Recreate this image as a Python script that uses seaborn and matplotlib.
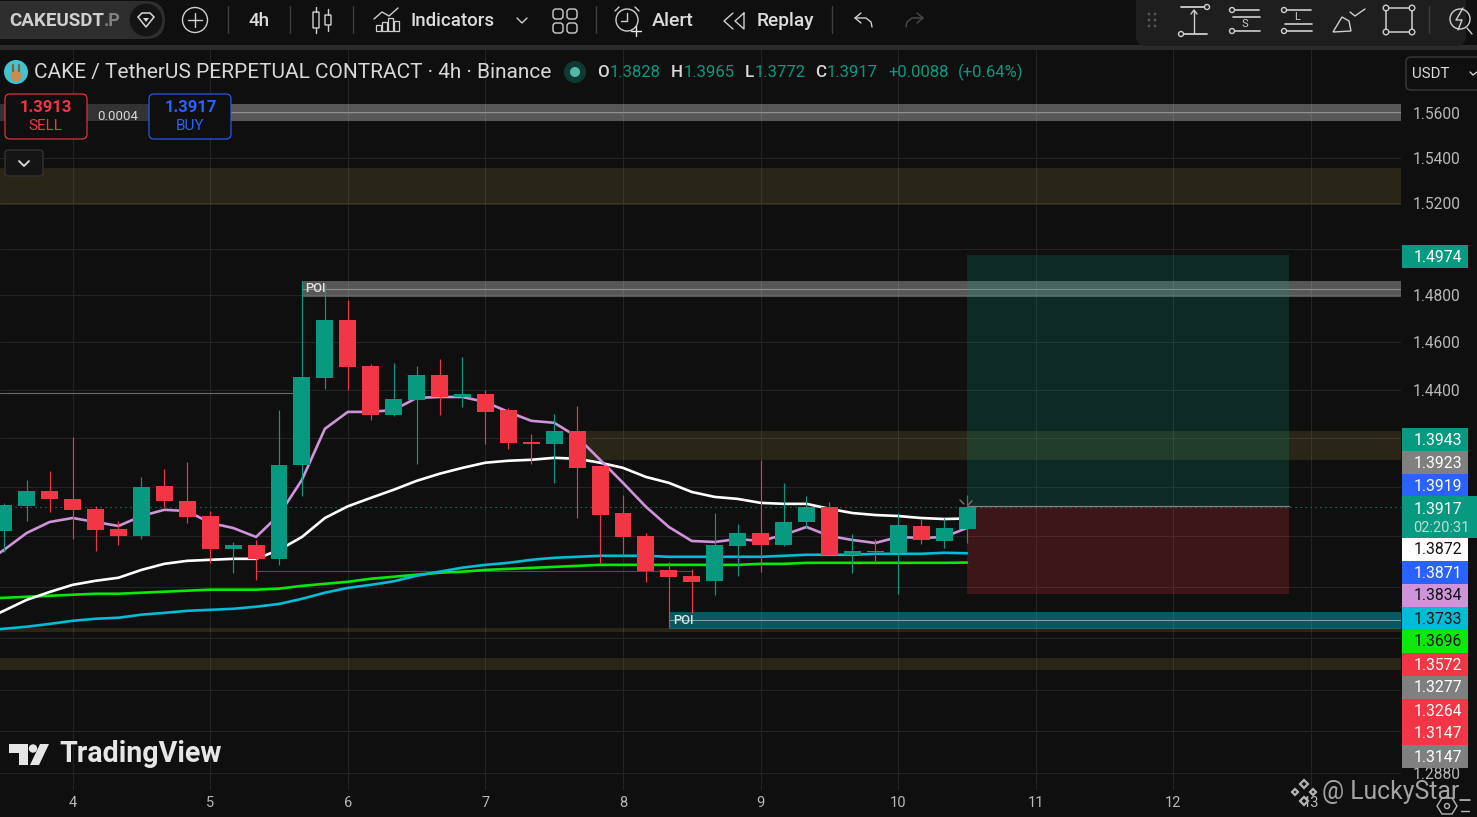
# CAKE / USDT 4h candles with the moving averages, zones and a long position
import numpy as np
import pandas as pd
import matplotlib
matplotlib.use("Agg")
import matplotlib.pyplot as plt
import seaborn as sns
from matplotlib.patches import Circle, FancyBboxPatch, Polygon, Rectangle
from matplotlib.ticker import NullLocator

# bar time in days, first bar sits half a day before the "4" tick
first_bar_day = 3.5
bar_step = 1 / 6

opens = [1.3822, 1.3923, 1.3983, 1.3951, 1.3911, 1.3830, 1.3802, 1.4004, 1.3943, 1.3882, 1.3750,
         1.3766, 1.3711, 1.4090, 1.4448, 1.4693, 1.4498, 1.4295, 1.4357, 1.4461, 1.4369, 1.4382,
         1.4315, 1.4184, 1.4175, 1.4229, 1.4085, 1.3894, 1.3802, 1.3667, 1.3644, 1.3624, 1.3762,
         1.3814, 1.3766, 1.3858, 1.3919, 1.3727, 1.3743, 1.3735, 1.3842, 1.3782, 1.3828]
highs = [1.3935, 1.4028, 1.4065, 1.4204, 1.3923, 1.3862, 1.4040, 1.4073, 1.4102, 1.3902, 1.3778,
         1.3786, 1.4315, 1.4860, 1.4847, 1.4779, 1.4507, 1.4511, 1.4498, 1.4528, 1.4537, 1.4399,
         1.4324, 1.4217, 1.4299, 1.4332, 1.4085, 1.3967, 1.3814, 1.3699, 1.3671, 1.3894, 1.3850,
         1.4110, 1.4016, 1.3963, 1.3939, 1.3810, 1.3790, 1.3894, 1.3870, 1.3874, 1.3965]
lows = [1.3738, 1.3862, 1.3898, 1.3790, 1.3743, 1.3766, 1.3790, 1.3919, 1.3854, 1.3695, 1.3656,
        1.3627, 1.3687, 1.3963, 1.4403, 1.4399, 1.4274, 1.4291, 1.4094, 1.4295, 1.4328, 1.4175,
        1.4155, 1.4094, 1.4016, 1.3874, 1.3695, 1.3723, 1.3620, 1.3444, 1.3498, 1.3569, 1.3644,
        1.3660, 1.3762, 1.3834, 1.3727, 1.3656, 1.3695, 1.3573, 1.3770, 1.3754, 1.3772]
closes = [1.3927, 1.3983, 1.3951, 1.3907, 1.3826, 1.3802, 1.4000, 1.3943, 1.3878, 1.3750, 1.3766,
          1.3711, 1.4090, 1.4453, 1.4693, 1.4494, 1.4295, 1.4361, 1.4461, 1.4369, 1.4382, 1.4307,
          1.4179, 1.4175, 1.4229, 1.4077, 1.3886, 1.3798, 1.3663, 1.3640, 1.3620, 1.3766, 1.3814,
          1.3766, 1.3858, 1.3919, 1.3727, 1.3743, 1.3738, 1.3846, 1.3786, 1.3834, 1.3917]

# moving averages start one bar earlier, just off the left edge
ma_white = [1.3465, 1.3506, 1.3549, 1.3580, 1.3608, 1.3624, 1.3636, 1.3667, 1.3691, 1.3703, 1.3707,
            1.3711, 1.3711, 1.3746, 1.3798, 1.3874, 1.3921, 1.3955, 1.3988, 1.4024, 1.4053, 1.4077,
            1.4098, 1.4106, 1.4110, 1.4118, 1.4114, 1.4098, 1.4077, 1.4040, 1.4016, 1.3979, 1.3959,
            1.3951, 1.3935, 1.3931, 1.3931, 1.3911, 1.3894, 1.3886, 1.3882, 1.3874, 1.3870, 1.3872]
ma_purple = [1.3683, 1.3746, 1.3814, 1.3858, 1.3874, 1.3858, 1.3842, 1.3882, 1.3907, 1.3902, 1.3854,
             1.3834, 1.3798, 1.3886, 1.4028, 1.4237, 1.4307, 1.4307, 1.4315, 1.4365, 1.4369, 1.4369,
             1.4348, 1.4307, 1.4270, 1.4262, 1.4204, 1.4110, 1.4016, 1.3919, 1.3838, 1.3782, 1.3778,
             1.3790, 1.3782, 1.3806, 1.3838, 1.3802, 1.3786, 1.3774, 1.3798, 1.3794, 1.3798, 1.3834]
ma_cyan = [1.3428, 1.3436, 1.3444, 1.3455, 1.3467, 1.3475, 1.3479, 1.3491, 1.3498, 1.3506, 1.3510,
           1.3514, 1.3522, 1.3533, 1.3553, 1.3577, 1.3596, 1.3608, 1.3622, 1.3644, 1.3660, 1.3676,
           1.3687, 1.3695, 1.3707, 1.3715, 1.3719, 1.3723, 1.3723, 1.3723, 1.3719, 1.3719, 1.3719,
           1.3719, 1.3719, 1.3723, 1.3727, 1.3727, 1.3727, 1.3731, 1.3731, 1.3731, 1.3735, 1.3733]
ma_green = [1.3555, 1.3557, 1.3561, 1.3565, 1.3569, 1.3573, 1.3573, 1.3577, 1.3581, 1.3585, 1.3589,
            1.3589, 1.3589, 1.3593, 1.3604, 1.3612, 1.3620, 1.3632, 1.3640, 1.3648, 1.3656, 1.3660,
            1.3667, 1.3671, 1.3675, 1.3679, 1.3683, 1.3687, 1.3687, 1.3687, 1.3687, 1.3687, 1.3687,
            1.3687, 1.3691, 1.3691, 1.3695, 1.3695, 1.3695, 1.3695, 1.3695, 1.3695, 1.3695, 1.3696]

# price zones: top, bottom, start day (None = from left edge), colour group
zone_tops = [1.5641, 1.5354, 1.4860, 1.4229, 1.3502, 1.3440, 1.3323]
zone_bottoms = [1.5564, 1.5191, 1.4792, 1.4110, 1.3436, 1.3424, 1.3277]
zone_starts = [None, None, 5.6667, 7.6667, 8.3333, None, None]
zone_kinds = ["grey", "olive", "grey", "olive", "teal", "olive", "olive"]
zone_mids = [1.5604, None, 1.4825, None, 1.3469, None, None]

# long position box
pos_start, pos_end = 10.5, 12.84
pos_target, pos_entry, pos_stop = 1.4972, 1.3923, 1.3573

last_price = 1.3917
old_high_line = 1.4384
old_low_line = 1.3664

grid_prices = [1.56, 1.54, 1.52, 1.50, 1.48, 1.46, 1.44, 1.42, 1.40, 1.38, 1.36, 1.34, 1.32, 1.3045, 1.2887]
grid_labels = ["1.5600", "1.5400", "1.5200", "", "1.4800", "1.4600", "1.4400", "", "", "", "", "", "", "", "1.2880"]
day_ticks = [4, 5, 6, 7, 8, 9, 10, 11, 12, 13]

# price tags on the right, top to bottom
tag_values = ["1.3943", "1.3923", "1.3919", "1.3917", "1.3872", "1.3871", "1.3834",
              "1.3733", "1.3696", "1.3572", "1.3277", "1.3264", "1.3147", "1.3147"]
tag_colors = ["#089981", "#808080", "#2962ff", "#089981", "#ffffff", "#2962ff", "#ce93d8",
              "#00bcd4", "#0ce70c", "#f23645", "#808080", "#f23645", "#f23645", "#808080"]
tag_text_colors = ["w", "w", "w", "w", "#111111", "w", "#111111",
                   "#111111", "#111111", "w", "w", "w", "w", "w"]

BG = "#0f0f0f"
UP = "#089981"
DOWN = "#f23645"
TXT = "#d6d6d6"
FONT = "Roboto"


def price_chart(fig):
    ax = fig.add_axes([0, 27 / 817, 1401 / 1477, 740 / 817])
    ax.set_facecolor(BG)
    ax.set_yscale("log")
    ax.set_xlim(3.4724, 13.654)
    ax.set_ylim(1.2823, 1.5888)

    ax.set_yticks(grid_prices)
    ax.set_yticklabels(grid_labels, fontsize=11.2, color="#b8b8b8", family=FONT)
    ax.yaxis.set_minor_locator(NullLocator())
    ax.yaxis.tick_right()
    ax.set_xticks(day_ticks)
    ax.set_xticklabels([str(d) for d in day_ticks], fontsize=10.5, color="#b8b8b8", family=FONT)
    ax.tick_params(axis="both", which="both", length=0)
    ax.tick_params(axis="y", pad=8.6)
    ax.tick_params(axis="x", pad=4)
    ax.grid(True, color="#242424", lw=0.75, zorder=0)
    ax.set_axisbelow(True)
    for s in ax.spines.values():
        s.set_visible(False)

    left, right = ax.get_xlim()
    zone_style = {"grey": ("#ffffff", 0.3, "#8e8e8e"), "olive": ("#c3a84b", 0.15, None),
                  "teal": ("#00bcd4", 0.42, "#7aa2a2")}
    for top, bot, start, kind, mid in zip(zone_tops, zone_bottoms, zone_starts, zone_kinds, zone_mids):
        x0 = left if start is None else start
        col, a, mid_col = zone_style[kind]
        ax.fill_between([x0, right], bot, top, color=col, alpha=a, lw=0, zorder=1)
        if mid is not None:
            ax.plot([x0, right], [mid, mid], color=mid_col, lw=0.75, zorder=1.5)

    ax.plot([left, 5.6667], [old_high_line] * 2, color="#6a6a6a", lw=0.8, zorder=1.5)
    ax.plot([5.3333, 8.5], [old_low_line] * 2, color="#24605e", lw=0.8, zorder=1.5)

    # position tool
    ax.fill_between([pos_start, pos_end], pos_entry, pos_target, color=UP, alpha=0.2, lw=0, zorder=2)
    ax.fill_between([pos_start, pos_end], pos_stop, pos_entry, color=DOWN, alpha=0.2, lw=0, zorder=2)
    ax.plot([pos_start, pos_end], [pos_entry] * 2, color="#808080", lw=0.9, zorder=2.2)

    ax.plot([left, right], [last_price] * 2, color=UP, lw=0.8, ls=(0, (1, 3.5)), zorder=2.5)

    # moving averages through seaborn
    ma_days = first_bar_day + bar_step * (np.arange(len(ma_white)) - 1)
    ma = pd.DataFrame({"day": ma_days, "white": ma_white, "purple": ma_purple,
                       "cyan": ma_cyan, "green": ma_green})
    for name, col in [("green", "#0ce70c"), ("cyan", "#00bcd4"), ("white", "#ffffff"), ("purple", "#ce93d8")]:
        sns.lineplot(data=ma, x="day", y=name, color=col, lw=1.9, ax=ax, zorder=3,
                     estimator=None, legend=False)
    ax.set_xlabel("")
    ax.set_ylabel("")

    # candles
    days = first_bar_day + bar_step * np.arange(len(opens))
    o, h, l, c = map(np.array, (opens, highs, lows, closes))
    colors = np.where(c >= o, UP, DOWN)
    ax.vlines(days, l, h, colors=colors, lw=0.85, zorder=4)
    ax.bar(days, np.abs(c - o), bottom=np.minimum(o, c), width=0.1235, color=colors, lw=0, zorder=5)
    return ax


def rrect(ui, x0, y0, x1, y1, r, fc="none", ec="none", lw=1.0, z=2):
    ui.add_patch(FancyBboxPatch((x0 + r, y0 + r), x1 - x0 - 2 * r, y1 - y0 - 2 * r,
                                boxstyle=f"round,pad={r},rounding_size={r}",
                                fc=fc, ec=ec, lw=lw, zorder=z))


def seg(ui, xs, ys, color="#cfcfcf", lw=1.0, z=3):
    ui.plot(xs, ys, color=color, lw=lw, zorder=z, solid_capstyle="round")


def ring(ui, x, y, r, ec="#cfcfcf", lw=1.0, fc="none", z=3):
    ui.add_patch(Circle((x, y), r, fc=fc, ec=ec, lw=lw, zorder=z))


def label(ui, x, y, s, size=12, color=TXT, ha="left", weight="normal", z=4, **kw):
    return ui.text(x, y, s, fontsize=size, color=color, ha=ha, va="center", family=FONT,
                   weight=weight, zorder=z, **kw)


def toolbar(ui):
    ui.add_patch(Rectangle((0, 0), 1477, 45, fc=BG, ec="none", zorder=1))
    ui.add_patch(Rectangle((0, 45), 1477, 5, fc="#2b2b2b", ec="none", zorder=1))

    rrect(ui, -30, 1, 165, 39, 19, fc="#2e2e2e")
    label(ui, 9, 20.5, "CAKEUSDT", size=13.5, color="#d0d0d0", weight="bold")
    label(ui, 103.5, 20.5, ".P", size=13, color="#808080", weight="bold")
    ring(ui, 146, 20, 17, ec="#2e2e2e", fc="#141414")
    ui.add_patch(Polygon([[138, 17], [142, 13], [150, 13], [154, 17], [146, 27]], fc="none", ec="#d8d8d8", lw=1.1, zorder=4))
    ui.add_patch(Polygon([[143, 18], [149, 18], [146, 22]], fc="#d8d8d8", ec="none", zorder=4))

    ring(ui, 195, 20, 12.5)
    seg(ui, [188, 202], [20, 20])
    seg(ui, [195, 195], [13, 27])
    for x in [228, 290, 353, 596, 832]:
        seg(ui, [x, x], [6, 33], color="#3e3e3e", lw=1.0)
    label(ui, 259, 20.5, "4h", size=13.5, ha="center", color="#dcdcdc", weight="medium")

    # candle icon
    for x, y0, y1, t, b in [(316, 12, 28, 7, 33), (328, 15, 25, 9, 31)]:
        rrect(ui, x - 3, y0, x + 3, y1, 0.5, ec="#cfcfcf", lw=1.0)
        seg(ui, [x, x], [t, y0])
        seg(ui, [x, x], [y1, b])

    # indicators icon
    for x, y0 in [(376, 25), (382, 22), (388, 18), (394, 21)]:
        ui.add_patch(Rectangle((x, y0), 5, 31 - y0, fc="none", ec="#cfcfcf", lw=0.9, zorder=3))
    seg(ui, [374, 382, 389, 398], [19, 12, 16, 8])
    label(ui, 410, 20.5, "Indicators", size=13.4, color="#dcdcdc", weight="medium")
    seg(ui, [517, 522, 527], [18, 23, 18])
    for x in [553, 567]:
        for y in [9, 23]:
            rrect(ui, x, y, x + 10, y + 10, 3, ec="#cfcfcf")

    # alert clock
    ring(ui, 627, 20, 11)
    seg(ui, [627, 627, 621], [13, 21, 21])
    seg(ui, [615, 619], [11, 7])
    seg(ui, [639, 635], [11, 7])
    seg(ui, [636, 636], [26, 36], color="#e8e8e8")
    seg(ui, [631, 641], [31, 31], color="#e8e8e8")
    label(ui, 652, 20.5, "Alert", size=14, color="#dcdcdc", weight="medium")

    seg(ui, [733, 724, 733], [13, 21, 29])
    seg(ui, [744, 735, 744, 744], [13, 21, 29, 13])
    label(ui, 757, 20.5, "Replay", size=13.8, color="#dcdcdc", weight="medium")

    seg(ui, [861, 855, 861], [13, 18, 23])
    seg(ui, [855, 866, 871, 872], [18, 18, 22, 27])
    seg(ui, [917, 923, 917], [13, 18, 23], color="#4a4a4a")
    seg(ui, [923, 912, 907, 906], [18, 18, 22, 27], color="#4a4a4a")

    # drawing tools panel
    rrect(ui, 1136, -10, 1466, 46, 10, fc="#1e1e1e")
    for x in [1149, 1155]:
        for y in [14, 20, 26]:
            ring(ui, x, y, 0.7, ec="#555555", fc="#555555")
    seg(ui, [1181, 1207], [7, 7], lw=1.3)
    seg(ui, [1182, 1207], [34, 34], lw=1.3)
    seg(ui, [1194, 1194], [10, 33], lw=1.0)
    seg(ui, [1191, 1194, 1197], [14, 10, 14], lw=1.0)
    ring(ui, 1207, 7, 2.5, fc="#1e1e1e", lw=1.0)
    ring(ui, 1181, 34, 2.5, fc="#1e1e1e", lw=1.0)

    for x0, ch, ys, ty in [(1232, "S", (10, 17, 31), 24), (1284, "L", (10, 24, 31), 17)]:
        seg(ui, [x0, x0 + 27], [ys[0], ys[0]], lw=1.2)
        seg(ui, [x0 + 1, x0 + 28], [ys[1], ys[1]], lw=1.2)
        seg(ui, [x0 + 1, x0 + 28], [ys[2], ys[2]], lw=1.2)
        ring(ui, x0, ys[0], 2.5, fc="#1e1e1e")
        ring(ui, x0, ys[2], 2.5, fc="#1e1e1e")
        label(ui, x0 + 13, ty, ch, size=8, ha="center", color="#cfcfcf")

    ui.add_patch(Polygon([[1333, 32], [1342, 17], [1349, 21], [1351, 31]], fc="none", ec="#cfcfcf", lw=1.0, zorder=3))
    seg(ui, [1350, 1355, 1365], [12, 16, 9])

    ui.add_patch(Rectangle((1386, 8), 26, 24, fc="none", ec="#cfcfcf", lw=1.1, zorder=3))
    for x in [1386, 1412]:
        for y in [8, 32]:
            ring(ui, x, y, 2.8, fc="#1e1e1e")
    seg(ui, [1429, 1429], [6, 33], color="#3e3e3e")
    ring(ui, 1460, 19, 10)
    seg(ui, [1467, 1472], [28, 34])
    seg(ui, [1463, 1456, 1462, 1458], [8, 20, 20, 30], lw=1.0)


def header(ui):
    ring(ui, 16, 72, 12, ec="none", fc="#3fc5d0")
    ui.add_patch(Circle((16, 76), 5.5, fc="#c98a4b", ec="none", zorder=4))
    seg(ui, [13, 13], [65, 71], color="#8d5a30", lw=1.6, z=5)
    seg(ui, [19, 19], [65, 71], color="#8d5a30", lw=1.6, z=5)

    label(ui, 34, 72.5, "CAKE / TetherUS PERPETUAL CONTRACT · 4h · Binance", size=15, color="#d8d8d8")
    ring(ui, 575, 72, 11, ec="none", fc="#0f3a33")
    ring(ui, 575, 72, 5, ec="none", fc="#53b9a5", z=4)

    for x, ch in [(597, "O"), (671, "H"), (745, "L"), (815, "C")]:
        label(ui, x, 72.5, ch, size=12.2, color="#d8d8d8", weight="medium")
    for x, v in [(610, "1.3828"), (684, "1.3965"), (755, "1.3772"), (827, "1.3917"),
                 (888, "+0.0088"), (958, "(+0.64%)")]:
        label(ui, x, 72.5, v, size=12, color=UP)

    # buy / sell
    ui.add_patch(Rectangle((0, 104), 231, 17, fc="#333333", ec="none", zorder=1.2))
    label(ui, 118, 116, "0.0004", size=9.5, ha="center", color="#d8d8d8")
    rrect(ui, 5, 94, 87, 139, 5, fc=BG, ec=DOWN, lw=0.8)
    rrect(ui, 149, 94, 231, 139, 5, fc=BG, ec="#2962ff", lw=0.8)
    label(ui, 46, 107, "1.3913", size=12, ha="center", color=DOWN, weight="bold")
    label(ui, 45.5, 126, "SELL", size=11, ha="center", color=DOWN)
    label(ui, 190.5, 107, "1.3917", size=12, ha="center", color="#2962ff", weight="bold")
    label(ui, 190, 126, "BUY", size=11, ha="center", color="#2962ff")

    rrect(ui, 5, 150, 43, 176, 3, fc="#151515", ec="#333333")
    seg(ui, [19, 24, 29], [161, 166, 161], color="#e0e0e0", lw=1.3)

    rrect(ui, 1406, 57, 1490, 90, 5, fc=BG, ec="#3a3a3a")
    label(ui, 1412, 73.5, "USDT", size=10.8, color="#dcdcdc")
    seg(ui, [1470, 1473, 1477], [72, 75, 72], lw=1.0)


def price_tags(ui):
    def tag(y, value, col, tcol):
        ui.add_patch(Rectangle((1402, y - 11.5), 66, 23, fc=col, ec="none", zorder=3))
        label(ui, 1414, y + 1, value, size=11.3, color=tcol, z=5)

    tag(256, "1.4974", UP, "w")
    y = 439
    for value, col, tcol in zip(tag_values, tag_colors, tag_text_colors):
        if value == "1.3917":
            y = 508
            ui.add_patch(Rectangle((1402, 496), 75, 42, fc=col, ec="none", zorder=3))
            label(ui, 1414, y + 1, value, size=11.3, color=tcol, z=5)
            label(ui, 1413, 528, "02:20:31", size=10.5, color="#b7e0d8", z=5)
            y = 549
            continue
        tag(y, value, col, tcol)
        y += 23


def overlays(ui):
    label(ui, 305.5, 289, "POI", size=9.3, color="#e4e4e4", weight="medium")
    label(ui, 673, 621, "POI", size=9.3, color="#e4e4e4", weight="medium")
    seg(ui, [960, 964], [500, 504], color="#777777", lw=1.0)
    seg(ui, [972, 968], [501, 505], color="#777777", lw=1.0)

    # TradingView mark
    wm = "#e6e6e6"
    ui.add_patch(Polygon([[9, 744], [28, 744], [28, 765], [19, 765], [19, 753], [9, 753]], fc=wm, ec="none", zorder=4))
    ring(ui, 33, 748.5, 4.2, ec="none", fc=wm, z=4)
    ui.add_patch(Polygon([[40, 744], [49, 744], [39, 765], [30, 765]], fc=wm, ec="none", zorder=4))
    label(ui, 59, 754.5, "TradingView", size=20.6, color=wm, weight="bold")

    # signature bottom right
    grey = "#b4b4b4"
    for cx, cy, r in [(1304, 784, 4), (1295, 792, 3), (1313, 792, 3), (1304, 801, 4)]:
        ui.add_patch(Polygon([[cx - r, cy], [cx, cy - r], [cx + r, cy], [cx, cy + r]], fc="none", ec=grey, lw=1.6, zorder=6))
    label(ui, 1322, 792, "@ LuckyStar_", size=17.8, color=grey, z=6, alpha=0.9)
    ui.add_patch(Polygon([[1437, 806], [1442, 798], [1452, 798], [1457, 806], [1452, 814], [1442, 814]], fc="none", ec=grey, lw=1.0, zorder=6))
    ring(ui, 1447, 806, 2.5, ec=grey, z=6)
    seg(ui, [1461, 1469], [811, 811], color=grey)


def main():
    sns.set_theme(style="dark", rc={"axes.facecolor": BG, "figure.facecolor": BG,
                                    "savefig.facecolor": BG})
    plt.rcParams["font.family"] = [FONT, "DejaVu Sans"]

    fig = plt.figure(figsize=(14.77, 8.17), dpi=100)
    price_chart(fig)

    # pixel sized overlay for the platform chrome
    ui = fig.add_axes([0, 0, 1, 1], facecolor="none")
    ui.set_xlim(0, 1477)
    ui.set_ylim(817, 0)
    ui.axis("off")

    toolbar(ui)
    header(ui)
    price_tags(ui)
    overlays(ui)

    fig.savefig("out.png", dpi=100, facecolor=BG)


if __name__ == "__main__":
    main()
